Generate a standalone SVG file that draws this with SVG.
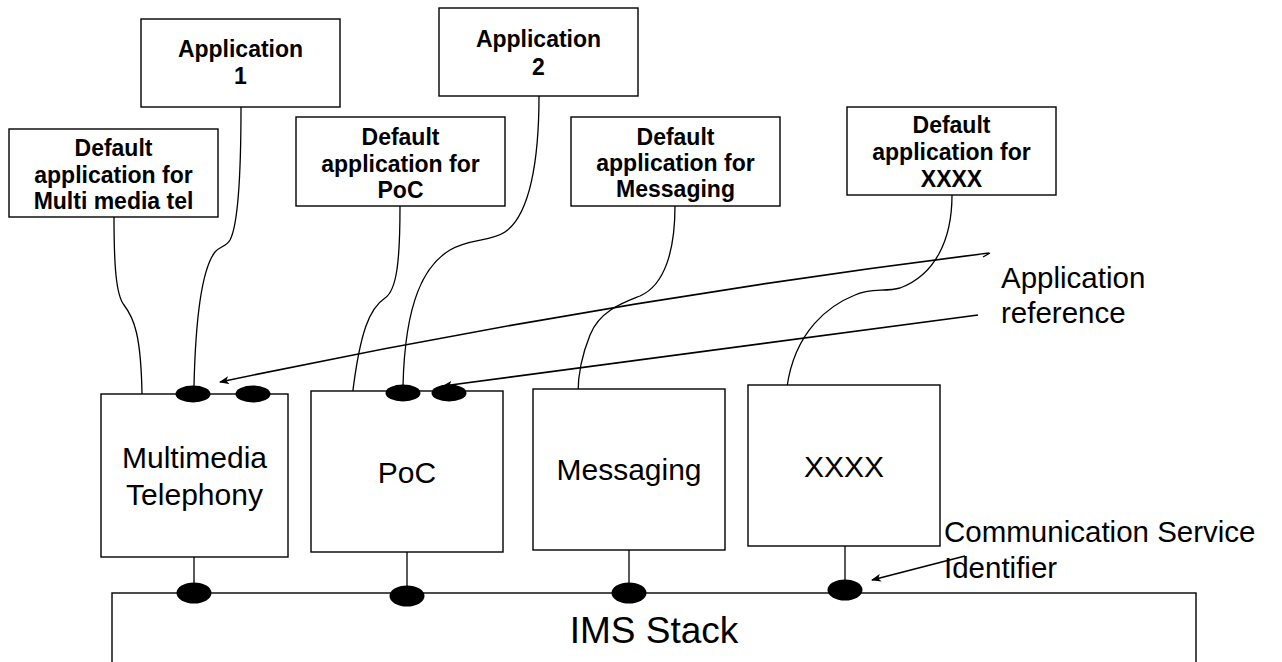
<svg xmlns="http://www.w3.org/2000/svg" width="1282" height="662" viewBox="0 0 1282 662">
<defs>
<style>
.box{fill:#fff;stroke:#000;stroke-width:1.4}
.ln{fill:none;stroke:#000;stroke-width:1.3}
.ar{fill:none;stroke:#000;stroke-width:1.6}
.dot{fill:#000}
.b{font-family:"Liberation Sans",Arial,sans-serif;font-weight:bold;font-size:23px;text-anchor:middle;fill:#000}
.n{font-family:"Liberation Sans",Arial,sans-serif;font-size:30px;text-anchor:middle;fill:#000}
.l{font-family:"Liberation Sans",Arial,sans-serif;font-size:29.5px;fill:#000}
</style>
<marker id="ah" viewBox="0 0 10 8" refX="9" refY="4" markerWidth="10" markerHeight="8" markerUnits="userSpaceOnUse" orient="auto">
<path d="M0,0 L10,4 L0,8 L2.5,4 Z" fill="#000"/>
</marker>
</defs>

<g id="ims-stack">
<rect class="box" x="112" y="593" width="1084" height="110"/>
<text class="n" x="654" y="643" style="font-size:37px">IMS Stack</text>
</g>

<g id="connectors">
<path class="ln" d="M114,217 C114,265 116,295 124,305 C134,318 141,335 142,394"/>
<path class="ln" d="M241,107 C241,170 238,225 230,240 C226,247 220,246 215,252 C205,265 196,300 194,386"/>
<path class="ln" d="M400,206 C400,260 397,290 385,298 C370,308 360,330 352,398"/>
<path class="ln" d="M539,96 C539,160 530,215 505,232 C490,242 470,238 450,250 C425,265 405,300 403,386"/>
<path class="ln" d="M675,206 C675,250 665,285 640,296 C625,302 600,310 590,335 C582,355 578,375 578,393"/>
<path class="ln" d="M952,195 C952,240 935,275 900,288 C885,292 870,288 855,295 C830,305 795,330 787,387"/>
<line class="ln" x1="194" y1="557" x2="194" y2="593"/>
<line class="ln" x1="407" y1="552" x2="407" y2="596"/>
<line class="ln" x1="629" y1="550" x2="629" y2="593"/>
<line class="ln" x1="845" y1="546" x2="845" y2="590"/>
<path class="ar" d="M989,253 Q604,301 220,382" marker-end="url(#ah)"/>
<path class="ln" d="M983,257 L990,253"/>
<path class="ar" d="M978,315 L443,386" marker-end="url(#ah)"/>
<path class="ar" d="M965,556 L872,580" marker-end="url(#ah)"/>
</g>

<g id="app1">
<rect class="box" x="141" y="19" width="199" height="88"/>
<text class="b" x="240.5" y="57">Application</text>
<text class="b" x="240.5" y="84">1</text>
</g>
<g id="app2">
<rect class="box" x="439" y="8" width="199" height="88"/>
<text class="b" x="538.5" y="47">Application</text>
<text class="b" x="538.5" y="75">2</text>
</g>
<g id="default-mmtel">
<rect class="box" x="9" y="129" width="209" height="88"/>
<text class="b" x="113.5" y="156">Default</text>
<text class="b" x="113.5" y="183">application for</text>
<text class="b" x="113.5" y="209">Multi media tel</text>
</g>
<g id="default-poc">
<rect class="box" x="296" y="117" width="209" height="89"/>
<text class="b" x="400.5" y="145">Default</text>
<text class="b" x="400.5" y="172">application for</text>
<text class="b" x="400.5" y="198">PoC</text>
</g>
<g id="default-messaging">
<rect class="box" x="571" y="117" width="209" height="89"/>
<text class="b" x="675.5" y="145">Default</text>
<text class="b" x="675.5" y="171">application for</text>
<text class="b" x="675.5" y="197">Messaging</text>
</g>
<g id="default-xxxx">
<rect class="box" x="847" y="107" width="209" height="88"/>
<text class="b" x="951.5" y="133">Default</text>
<text class="b" x="951.5" y="160">application for</text>
<text class="b" x="951.5" y="187">XXXX</text>
</g>

<g id="mmtel">
<rect class="box" x="101" y="394" width="187" height="163"/>
<text class="n" x="194.5" y="468">Multimedia</text>
<text class="n" x="194.5" y="505">Telephony</text>
<ellipse class="dot" cx="193" cy="394" rx="17.5" ry="8.5"/>
<ellipse class="dot" cx="253" cy="394" rx="17.5" ry="8.5"/>
<ellipse class="dot" cx="194" cy="593" rx="17.5" ry="10.5"/>
</g>
<g id="poc">
<rect class="box" x="311" y="391" width="192" height="161"/>
<text class="n" x="407" y="483">PoC</text>
<ellipse class="dot" cx="403" cy="393" rx="17.5" ry="8.5"/>
<ellipse class="dot" cx="449" cy="393" rx="17.5" ry="8.5"/>
<ellipse class="dot" cx="407" cy="596" rx="17.5" ry="10.5"/>
</g>
<g id="messaging">
<rect class="box" x="533" y="389" width="192" height="161"/>
<text class="n" x="629" y="480">Messaging</text>
<ellipse class="dot" cx="629" cy="593" rx="17.5" ry="10.5"/>
</g>
<g id="xxxx">
<rect class="box" x="748" y="385" width="192" height="161"/>
<text class="n" x="844" y="477">XXXX</text>
<ellipse class="dot" cx="845" cy="590" rx="17.5" ry="10.5"/>
</g>

<g id="label-app-ref">
<text class="l" x="1001" y="288">Application</text>
<text class="l" x="1001" y="323">reference</text>
</g>
<g id="label-csi">
<text class="l" x="944" y="542">Communication Service</text>
<text class="l" x="944" y="578">Identifier</text>
</g>
</svg>
